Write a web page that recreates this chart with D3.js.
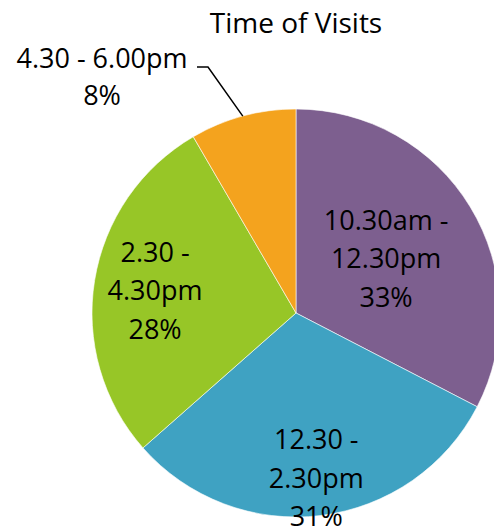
<!DOCTYPE html>
<html>
<head>
<meta charset="utf-8">
<script src="https://cdn.jsdelivr.net/npm/d3@7"></script>
<style>
body { margin: 0; background: #fff; }
text { font-family: "Open Sans", sans-serif; fill: #000; }
</style>
</head>
<body>
<div id="chart"></div>
<script>
// chart data
var categories = ["10.30am - 12.30pm", "12.30 - 2.30pm", "2.30 - 4.30pm", "4.30 - 6.00pm"];
var values = [32.6, 30.9, 28.1, 8.4];
var labelLines = [["10.30am -", "12.30pm"], ["12.30 -", "2.30pm"], ["2.30 -", "4.30pm"], ["4.30 - 6.00pm"]];
var colors = ["#7D5F8F", "#3FA2C2", "#97C627", "#F4A31E"];
var title = "Time of Visits";

var width = 494, height = 530;
var cx = 296, cy = 313, radius = 204;
var fs = "27px";

var svg = d3.select("#chart").append("svg")
  .attr("width", width)
  .attr("height", height);

svg.append("text")
  .attr("x", 296)
  .attr("y", 33)
  .attr("text-anchor", "middle")
  .style("font-size", "28px")
  .text(title);

var total = d3.sum(values);
var pie = d3.pie().sort(null).value(function(d) { return d; });
var arcs = pie(values);
var arc = d3.arc().innerRadius(0).outerRadius(radius);

var g = svg.append("g").attr("transform", "translate(" + cx + "," + cy + ")");

g.selectAll("path")
  .data(arcs)
  .enter().append("path")
  .attr("d", arc)
  .attr("fill", function(d, i) { return colors[i]; })
  .attr("stroke", "#fff")
  .attr("stroke-width", 0.6);

// inside labels sit at different depths (excel best fit)
var labelDepth = [0.517, 0.813, 0.70];
var lineH = 38.5;

for (var i = 0; i < 3; i++) {
  var a = arcs[i];
  var mid = (a.startAngle + a.endAngle) / 2;
  var r = radius * labelDepth[i];
  var x = Math.sin(mid) * r, y = -Math.cos(mid) * r;
  var lines = labelLines[i].concat([Math.round(values[i] / total * 100) + "%"]);
  var t = g.append("text")
    .attr("text-anchor", "middle")
    .style("font-size", fs);
  lines.forEach(function(s, k) {
    t.append("tspan")
      .attr("x", x)
      .attr("y", y + (k - (lines.length - 1) / 2) * lineH + 10)
      .text(s);
  });
}

// the small slice gets an outside label with a leader line
var small = arcs[3];
var sm = (small.startAngle + small.endAngle) / 2;
var px = Math.sin(sm) * radius, py = -Math.cos(sm) * radius;
g.append("polyline")
  .attr("points", [[-99, -246], [-88, -246], [px, py]].map(function(p) { return p.join(","); }).join(" "))
  .attr("fill", "none")
  .attr("stroke", "#000")
  .attr("stroke-width", 1.5);

var ot = g.append("text")
  .attr("text-anchor", "middle")
  .style("font-size", fs);
ot.append("tspan").attr("x", -194).attr("y", -245).text(labelLines[3][0]);
ot.append("tspan").attr("x", -194).attr("y", -208).text(Math.round(values[3] / total * 100) + "%");
</script>
</body>
</html>
